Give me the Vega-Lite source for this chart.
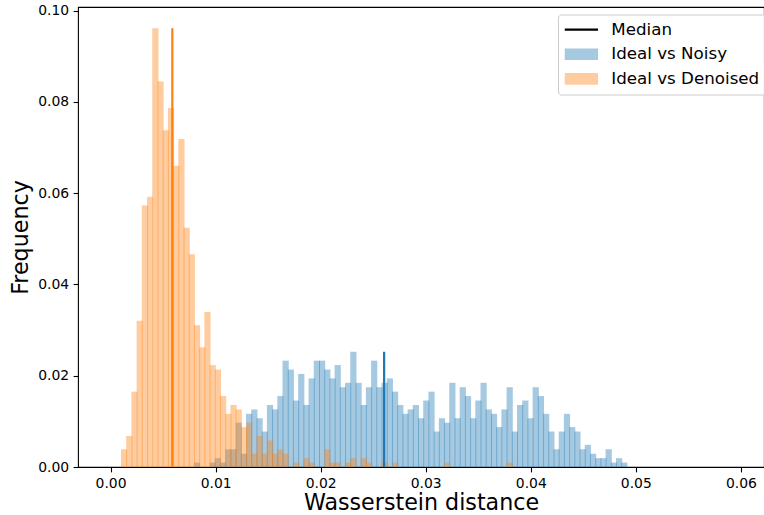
{
  "$schema": "https://vega.github.io/schema/vega-lite/v6.json",
  "width": 686,
  "height": 460,
  "autosize": {"type": "none"},
  "padding": {"left": 78, "top": 7, "right": 0, "bottom": 48},
  "background": "white",
  "config": {
    "font": "DejaVu Sans",
    "view": {"stroke": "black", "strokeWidth": 1.1},
    "axis": {
      "domain": false,
      "grid": false,
      "ticks": true,
      "tickSize": 4.9,
      "tickWidth": 1.1,
      "tickColor": "black",
      "labelFont": "DejaVu Sans",
      "labelFontSize": 13.9,
      "labelColor": "black",
      "labelPadding": 4.5,
      "labelFlush": false,
      "titleFont": "DejaVu Sans",
      "titleFontSize": 22.2,
      "titleFontWeight": "normal",
      "titleColor": "black"
    }
  },
  "datasets": {
    "bars": [
      {"series": "Ideal vs Noisy", "start": 0.007936, "end": 0.008432, "frequency": 0.00097},
      {"series": "Ideal vs Noisy", "start": 0.009424, "end": 0.00992, "frequency": 0.00097},
      {"series": "Ideal vs Noisy", "start": 0.00992, "end": 0.010416, "frequency": 0.00194},
      {"series": "Ideal vs Noisy", "start": 0.010416, "end": 0.010912, "frequency": 0.00097},
      {"series": "Ideal vs Noisy", "start": 0.010912, "end": 0.011408, "frequency": 0.00388},
      {"series": "Ideal vs Noisy", "start": 0.011408, "end": 0.011904, "frequency": 0.00388},
      {"series": "Ideal vs Noisy", "start": 0.011904, "end": 0.0124, "frequency": 0.00971},
      {"series": "Ideal vs Noisy", "start": 0.0124, "end": 0.012896, "frequency": 0.00291},
      {"series": "Ideal vs Noisy", "start": 0.012896, "end": 0.013392, "frequency": 0.01165},
      {"series": "Ideal vs Noisy", "start": 0.013392, "end": 0.013888, "frequency": 0.01262},
      {"series": "Ideal vs Noisy", "start": 0.013888, "end": 0.014384, "frequency": 0.01068},
      {"series": "Ideal vs Noisy", "start": 0.014384, "end": 0.01488, "frequency": 0.00777},
      {"series": "Ideal vs Noisy", "start": 0.01488, "end": 0.015376, "frequency": 0.01359},
      {"series": "Ideal vs Noisy", "start": 0.015376, "end": 0.015872, "frequency": 0.01262},
      {"series": "Ideal vs Noisy", "start": 0.015872, "end": 0.016368, "frequency": 0.01554},
      {"series": "Ideal vs Noisy", "start": 0.016368, "end": 0.016864, "frequency": 0.0233},
      {"series": "Ideal vs Noisy", "start": 0.016864, "end": 0.01736, "frequency": 0.02136},
      {"series": "Ideal vs Noisy", "start": 0.01736, "end": 0.017856, "frequency": 0.01457},
      {"series": "Ideal vs Noisy", "start": 0.017856, "end": 0.018352, "frequency": 0.02039},
      {"series": "Ideal vs Noisy", "start": 0.018352, "end": 0.018848, "frequency": 0.01359},
      {"series": "Ideal vs Noisy", "start": 0.018848, "end": 0.019344, "frequency": 0.01942},
      {"series": "Ideal vs Noisy", "start": 0.019344, "end": 0.01984, "frequency": 0.0233},
      {"series": "Ideal vs Noisy", "start": 0.01984, "end": 0.020336, "frequency": 0.0233},
      {"series": "Ideal vs Noisy", "start": 0.020336, "end": 0.020832, "frequency": 0.02136},
      {"series": "Ideal vs Noisy", "start": 0.020832, "end": 0.021328, "frequency": 0.01942},
      {"series": "Ideal vs Noisy", "start": 0.021328, "end": 0.021824, "frequency": 0.02233},
      {"series": "Ideal vs Noisy", "start": 0.021824, "end": 0.02232, "frequency": 0.01748},
      {"series": "Ideal vs Noisy", "start": 0.02232, "end": 0.022816, "frequency": 0.01845},
      {"series": "Ideal vs Noisy", "start": 0.022816, "end": 0.023312, "frequency": 0.02525},
      {"series": "Ideal vs Noisy", "start": 0.023312, "end": 0.023808, "frequency": 0.01845},
      {"series": "Ideal vs Noisy", "start": 0.023808, "end": 0.024304, "frequency": 0.01359},
      {"series": "Ideal vs Noisy", "start": 0.024304, "end": 0.0248, "frequency": 0.01748},
      {"series": "Ideal vs Noisy", "start": 0.0248, "end": 0.025296, "frequency": 0.0233},
      {"series": "Ideal vs Noisy", "start": 0.025296, "end": 0.025792, "frequency": 0.01748},
      {"series": "Ideal vs Noisy", "start": 0.025792, "end": 0.026288, "frequency": 0.01845},
      {"series": "Ideal vs Noisy", "start": 0.026288, "end": 0.026784, "frequency": 0.01942},
      {"series": "Ideal vs Noisy", "start": 0.026784, "end": 0.02728, "frequency": 0.01651},
      {"series": "Ideal vs Noisy", "start": 0.02728, "end": 0.027776, "frequency": 0.01359},
      {"series": "Ideal vs Noisy", "start": 0.027776, "end": 0.028272, "frequency": 0.01165},
      {"series": "Ideal vs Noisy", "start": 0.028272, "end": 0.028768, "frequency": 0.01262},
      {"series": "Ideal vs Noisy", "start": 0.028768, "end": 0.029264, "frequency": 0.01359},
      {"series": "Ideal vs Noisy", "start": 0.029264, "end": 0.02976, "frequency": 0.01068},
      {"series": "Ideal vs Noisy", "start": 0.02976, "end": 0.030256, "frequency": 0.01457},
      {"series": "Ideal vs Noisy", "start": 0.030256, "end": 0.030752, "frequency": 0.01651},
      {"series": "Ideal vs Noisy", "start": 0.030752, "end": 0.031248, "frequency": 0.00777},
      {"series": "Ideal vs Noisy", "start": 0.031248, "end": 0.031744, "frequency": 0.01068},
      {"series": "Ideal vs Noisy", "start": 0.031744, "end": 0.03224, "frequency": 0.00971},
      {"series": "Ideal vs Noisy", "start": 0.03224, "end": 0.032736, "frequency": 0.01845},
      {"series": "Ideal vs Noisy", "start": 0.032736, "end": 0.033232, "frequency": 0.01068},
      {"series": "Ideal vs Noisy", "start": 0.033232, "end": 0.033728, "frequency": 0.01748},
      {"series": "Ideal vs Noisy", "start": 0.033728, "end": 0.034224, "frequency": 0.01554},
      {"series": "Ideal vs Noisy", "start": 0.034224, "end": 0.03472, "frequency": 0.01068},
      {"series": "Ideal vs Noisy", "start": 0.03472, "end": 0.035216, "frequency": 0.01457},
      {"series": "Ideal vs Noisy", "start": 0.035216, "end": 0.035712, "frequency": 0.01845},
      {"series": "Ideal vs Noisy", "start": 0.035712, "end": 0.036208, "frequency": 0.01262},
      {"series": "Ideal vs Noisy", "start": 0.036208, "end": 0.036704, "frequency": 0.01165},
      {"series": "Ideal vs Noisy", "start": 0.036704, "end": 0.0372, "frequency": 0.00874},
      {"series": "Ideal vs Noisy", "start": 0.0372, "end": 0.037696, "frequency": 0.01262},
      {"series": "Ideal vs Noisy", "start": 0.037696, "end": 0.038192, "frequency": 0.01748},
      {"series": "Ideal vs Noisy", "start": 0.038192, "end": 0.038688, "frequency": 0.00777},
      {"series": "Ideal vs Noisy", "start": 0.038688, "end": 0.039184, "frequency": 0.01359},
      {"series": "Ideal vs Noisy", "start": 0.039184, "end": 0.03968, "frequency": 0.01457},
      {"series": "Ideal vs Noisy", "start": 0.03968, "end": 0.040176, "frequency": 0.01068},
      {"series": "Ideal vs Noisy", "start": 0.040176, "end": 0.040672, "frequency": 0.01748},
      {"series": "Ideal vs Noisy", "start": 0.040672, "end": 0.041168, "frequency": 0.01554},
      {"series": "Ideal vs Noisy", "start": 0.041168, "end": 0.041664, "frequency": 0.01165},
      {"series": "Ideal vs Noisy", "start": 0.041664, "end": 0.04216, "frequency": 0.00777},
      {"series": "Ideal vs Noisy", "start": 0.04216, "end": 0.042656, "frequency": 0.00388},
      {"series": "Ideal vs Noisy", "start": 0.042656, "end": 0.043152, "frequency": 0.00777},
      {"series": "Ideal vs Noisy", "start": 0.043152, "end": 0.043648, "frequency": 0.01165},
      {"series": "Ideal vs Noisy", "start": 0.043648, "end": 0.044144, "frequency": 0.00874},
      {"series": "Ideal vs Noisy", "start": 0.044144, "end": 0.04464, "frequency": 0.00777},
      {"series": "Ideal vs Noisy", "start": 0.04464, "end": 0.045136, "frequency": 0.00388},
      {"series": "Ideal vs Noisy", "start": 0.045136, "end": 0.045632, "frequency": 0.00486},
      {"series": "Ideal vs Noisy", "start": 0.045632, "end": 0.046128, "frequency": 0.00291},
      {"series": "Ideal vs Noisy", "start": 0.046128, "end": 0.046624, "frequency": 0.00194},
      {"series": "Ideal vs Noisy", "start": 0.046624, "end": 0.04712, "frequency": 0.00194},
      {"series": "Ideal vs Noisy", "start": 0.04712, "end": 0.047616, "frequency": 0.00388},
      {"series": "Ideal vs Noisy", "start": 0.047616, "end": 0.048112, "frequency": 0.00097},
      {"series": "Ideal vs Noisy", "start": 0.048112, "end": 0.048608, "frequency": 0.00194},
      {"series": "Ideal vs Noisy", "start": 0.048608, "end": 0.049104, "frequency": 0.00097},
      {"series": "Ideal vs Denoised", "start": 0.000992, "end": 0.001488, "frequency": 0.00388},
      {"series": "Ideal vs Denoised", "start": 0.001488, "end": 0.001984, "frequency": 0.0068},
      {"series": "Ideal vs Denoised", "start": 0.001984, "end": 0.00248, "frequency": 0.01651},
      {"series": "Ideal vs Denoised", "start": 0.00248, "end": 0.002976, "frequency": 0.03204},
      {"series": "Ideal vs Denoised", "start": 0.002976, "end": 0.003472, "frequency": 0.05729},
      {"series": "Ideal vs Denoised", "start": 0.003472, "end": 0.003968, "frequency": 0.05923},
      {"series": "Ideal vs Denoised", "start": 0.003968, "end": 0.004464, "frequency": 0.09613},
      {"series": "Ideal vs Denoised", "start": 0.004464, "end": 0.00496, "frequency": 0.08448},
      {"series": "Ideal vs Denoised", "start": 0.00496, "end": 0.005456, "frequency": 0.0738},
      {"series": "Ideal vs Denoised", "start": 0.005456, "end": 0.005952, "frequency": 0.07865},
      {"series": "Ideal vs Denoised", "start": 0.005952, "end": 0.006448, "frequency": 0.06603},
      {"series": "Ideal vs Denoised", "start": 0.006448, "end": 0.006944, "frequency": 0.07185},
      {"series": "Ideal vs Denoised", "start": 0.006944, "end": 0.00744, "frequency": 0.05243},
      {"series": "Ideal vs Denoised", "start": 0.00744, "end": 0.007936, "frequency": 0.04661},
      {"series": "Ideal vs Denoised", "start": 0.007936, "end": 0.008432, "frequency": 0.03107},
      {"series": "Ideal vs Denoised", "start": 0.008432, "end": 0.008928, "frequency": 0.02622},
      {"series": "Ideal vs Denoised", "start": 0.008928, "end": 0.009424, "frequency": 0.03399},
      {"series": "Ideal vs Denoised", "start": 0.009424, "end": 0.00992, "frequency": 0.02233},
      {"series": "Ideal vs Denoised", "start": 0.00992, "end": 0.010416, "frequency": 0.02136},
      {"series": "Ideal vs Denoised", "start": 0.010416, "end": 0.010912, "frequency": 0.01554},
      {"series": "Ideal vs Denoised", "start": 0.010912, "end": 0.011408, "frequency": 0.01165},
      {"series": "Ideal vs Denoised", "start": 0.011408, "end": 0.011904, "frequency": 0.01359},
      {"series": "Ideal vs Denoised", "start": 0.011904, "end": 0.0124, "frequency": 0.01262},
      {"series": "Ideal vs Denoised", "start": 0.0124, "end": 0.012896, "frequency": 0.00874},
      {"series": "Ideal vs Denoised", "start": 0.012896, "end": 0.013392, "frequency": 0.00971},
      {"series": "Ideal vs Denoised", "start": 0.013392, "end": 0.013888, "frequency": 0.00291},
      {"series": "Ideal vs Denoised", "start": 0.013888, "end": 0.014384, "frequency": 0.0068},
      {"series": "Ideal vs Denoised", "start": 0.014384, "end": 0.01488, "frequency": 0.00291},
      {"series": "Ideal vs Denoised", "start": 0.01488, "end": 0.015376, "frequency": 0.00583},
      {"series": "Ideal vs Denoised", "start": 0.015376, "end": 0.015872, "frequency": 0.00291},
      {"series": "Ideal vs Denoised", "start": 0.015872, "end": 0.016368, "frequency": 0.00388},
      {"series": "Ideal vs Denoised", "start": 0.016368, "end": 0.016864, "frequency": 0.00291},
      {"series": "Ideal vs Denoised", "start": 0.01736, "end": 0.017856, "frequency": 0.00097},
      {"series": "Ideal vs Denoised", "start": 0.018352, "end": 0.018848, "frequency": 0.00194},
      {"series": "Ideal vs Denoised", "start": 0.018848, "end": 0.019344, "frequency": 0.00097},
      {"series": "Ideal vs Denoised", "start": 0.020336, "end": 0.020832, "frequency": 0.00388},
      {"series": "Ideal vs Denoised", "start": 0.020832, "end": 0.021328, "frequency": 0.00097},
      {"series": "Ideal vs Denoised", "start": 0.021328, "end": 0.021824, "frequency": 0.00097},
      {"series": "Ideal vs Denoised", "start": 0.02232, "end": 0.022816, "frequency": 0.00097},
      {"series": "Ideal vs Denoised", "start": 0.022816, "end": 0.023312, "frequency": 0.00194},
      {"series": "Ideal vs Denoised", "start": 0.023808, "end": 0.024304, "frequency": 0.00194},
      {"series": "Ideal vs Denoised", "start": 0.024304, "end": 0.0248, "frequency": 0.00097},
      {"series": "Ideal vs Denoised", "start": 0.025792, "end": 0.026288, "frequency": 0.00097},
      {"series": "Ideal vs Denoised", "start": 0.026784, "end": 0.02728, "frequency": 0.00097},
      {"series": "Ideal vs Denoised", "start": 0.031744, "end": 0.03224, "frequency": 0.00097},
      {"series": "Ideal vs Denoised", "start": 0.037696, "end": 0.038192, "frequency": 0.00097}
    ],
    "medians": [
      {"series": "Ideal vs Noisy", "median": 0.02604, "top": 0.02525},
      {"series": "Ideal vs Denoised", "median": 0.00588, "top": 0.09613}
    ]
  },
  "layer": [
    {
      "data": {"name": "bars"},
      "mark": {"type": "rect", "fillOpacity": 0.4, "x2Offset": 1},
      "encoding": {
        "x": {
          "field": "start",
          "type": "quantitative",
          "scale": {"domain": [-0.0031, 0.0622], "nice": false, "zero": false},
          "axis": {"values": [0, 0.01, 0.02, 0.03, 0.04, 0.05, 0.06], "format": ".2f", "titlePadding": 1.5},
          "title": "Wasserstein distance"
        },
        "x2": {"field": "end"},
        "y": {
          "field": "frequency",
          "type": "quantitative",
          "scale": {"domain": [0, 0.1008], "nice": false},
          "axis": {"values": [0, 0.02, 0.04, 0.06, 0.08, 0.1], "format": ".2f", "titlePadding": 5},
          "title": "Frequency"
        },
        "y2": {"datum": 0},
        "color": {
          "field": "series",
          "type": "nominal",
          "scale": {
            "domain": ["Median", "Ideal vs Noisy", "Ideal vs Denoised"],
            "range": ["#000000", "#1f77b4", "#ff7f0e"]
          },
          "legend": {
            "title": null,
            "orient": "none",
            "legendX": 480,
            "legendY": 7.5,
            "labelFont": "DejaVu Sans",
            "labelFontSize": 16.7,
            "labelColor": "black",
            "symbolSize": 1110,
            "symbolType": "M-1,-0.35L1,-0.35L1,0.35L-1,0.35Z",
            "labelOffset": 0,
            "padding": 6.7,
            "rowPadding": 6.7,
            "strokeColor": "#cccccc",
            "fillColor": "rgba(255,255,255,0.8)",
            "cornerRadius": 3,
            "encode": {
              "symbols": {
                "update": {
                  "x": {"value": 16.7},
                  "shape": {"signal": "datum.value === 'Median' ? 'M-1,0L1,0' : 'M-1,-0.35L1,-0.35L1,0.35L-1,0.35Z'"},
                  "fill": {"signal": "datum.value === 'Median' ? 'transparent' : scale('color', datum.value)"},
                  "fillOpacity": {"value": 0.4},
                  "stroke": {"signal": "datum.value === 'Median' ? '#000000' : 'transparent'"},
                  "strokeWidth": {"signal": "datum.value === 'Median' ? 2.2 : 0"},
                  "opacity": {"value": 1}
                }
              },
              "labels": {
                "update": {
                  "x": {"value": 46.6}
                }
              }
            }
          }
        }
      }
    },
    {
      "data": {"name": "medians"},
      "mark": {"type": "rule", "strokeWidth": 2.2},
      "encoding": {
        "x": {"field": "median", "type": "quantitative"},
        "y": {"field": "top", "type": "quantitative"},
        "y2": {"datum": 0},
        "color": {"field": "series", "type": "nominal"}
      }
    }
  ]
}
